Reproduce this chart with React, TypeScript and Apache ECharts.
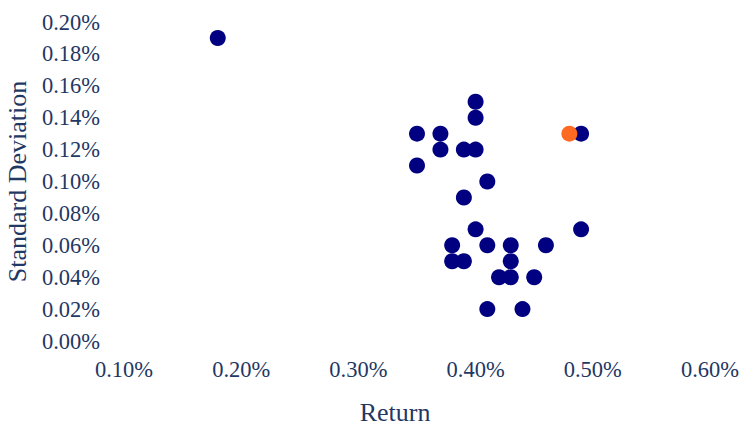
import React, { useEffect, useRef } from "react";
import * as echarts from "echarts";

// Return (%) and Standard Deviation (%) for each portfolio
const returns = [0.18, 0.40, 0.40, 0.35, 0.37, 0.49, 0.37, 0.39, 0.40, 0.35, 0.41, 0.39, 0.40, 0.49, 0.38, 0.41, 0.43, 0.46, 0.38, 0.39, 0.43, 0.42, 0.43, 0.45, 0.41, 0.44];
const stdDevs = [0.19, 0.15, 0.14, 0.13, 0.13, 0.13, 0.12, 0.12, 0.12, 0.11, 0.10, 0.09, 0.07, 0.07, 0.06, 0.06, 0.06, 0.06, 0.05, 0.05, 0.05, 0.04, 0.04, 0.04, 0.02, 0.02];
const highlightReturn = [0.48];
const highlightStd = [0.13];

const TEXT = "#1f3864";
const FONT = "'Liberation Serif', 'Times New Roman', serif";

export default function App() {
  const ref = useRef<HTMLDivElement>(null);
  useEffect(() => {
    if (!ref.current) return;
    const chart = echarts.init(ref.current, undefined, { renderer: "svg" });
    chart.setOption({
      animation: false,
      backgroundColor: "#ffffff",
      textStyle: { fontFamily: FONT },
      grid: { left: 124, right: 32, top: 22, bottom: 85, containLabel: false, outerBoundsMode: "none" },
      xAxis: {
        type: "value",
        min: 0.1,
        max: 0.6,
        interval: 0.1,
        axisLine: { show: false },
        axisTick: { show: false },
        splitLine: { show: false },
        axisLabel: {
          color: TEXT,
          fontFamily: FONT,
          fontSize: 22.5,
          margin: 17,
          formatter: (v: number) => v.toFixed(2) + "%",
        },
      },
      yAxis: {
        type: "value",
        min: 0,
        max: 0.2,
        interval: 0.02,
        name: "Standard Deviation",
        nameLocation: "middle",
        nameGap: 89,
        nameTextStyle: { color: TEXT, fontFamily: FONT, fontSize: 26 },
        axisLine: { show: false },
        axisTick: { show: false },
        splitLine: { show: false },
        axisLabel: {
          color: TEXT,
          fontFamily: FONT,
          fontSize: 22.5,
          margin: 24,
          formatter: (v: number) => v.toFixed(2) + "%",
        },
      },
      graphic: [
        {
          type: "text",
          x: 395,
          y: 412,
          style: {
            text: "Return",
            fill: TEXT,
            font: `26px ${FONT}`,
            align: "center",
            verticalAlign: "middle",
          },
        },
      ],
      series: [
        {
          type: "scatter",
          symbolSize: 16,
          itemStyle: { color: "#000080", opacity: 1 },
          data: returns.map((r, i) => [r, stdDevs[i]]),
        },
        {
          type: "scatter",
          symbolSize: 16,
          itemStyle: { color: "#ff6a22", opacity: 1 },
          data: highlightReturn.map((r, i) => [r, highlightStd[i]]),
        },
      ],
    });
    return () => chart.dispose();
  }, []);
  return <div ref={ref} style={{ width: 742, height: 426, position: "absolute", left: 0, top: 0 }} />;
}
